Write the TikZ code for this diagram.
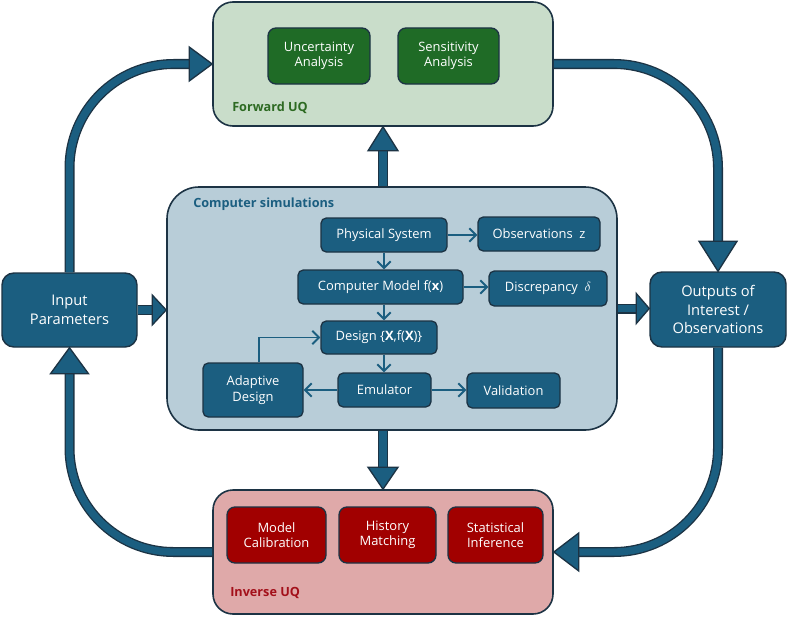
\documentclass[tikz,border=0pt]{standalone}
\usepackage{fontspec}
\setmainfont{Open Sans}
\usetikzlibrary{arrows.meta}
\definecolor{uqteal}{HTML}{1B5E80}
\definecolor{uqdark}{HTML}{1C3344}
\definecolor{simfill}{HTML}{B8CDD8}
\definecolor{fwdfill}{HTML}{C9DDCA}
\definecolor{invfill}{HTML}{DFA9A9}
\definecolor{fwdgreen}{HTML}{1F6B26}
\definecolor{invred}{HTML}{A10000}
\definecolor{fwdtext}{HTML}{2D6A22}
\definecolor{invtext}{HTML}{A3101A}
\tikzset{wd/.style = {minimum width=#1*0.75pt},
         ht/.style = {minimum height=#1*0.75pt}}
\tikzset{panel/.style = {draw=uqdark, line width=1.2pt, rounded corners=15pt, inner sep=0}}
\tikzset{bigbox/.style = {draw=uqdark, fill=uqteal, line width=1.1pt, rounded corners=9pt,
                          text=white, align=center, font=\fontsize{11}{14}\selectfont, inner sep=0}}
\tikzset{simbox/.style = {draw=uqdark, fill=uqteal, line width=1pt, rounded corners=4pt,
                          text=white, align=center, font=\fontsize{9.7}{11.5}\selectfont, inner sep=0}}
\tikzset{fwdbox/.style = {simbox, fill=fwdgreen, rounded corners=6pt}}
\tikzset{invbox/.style = {simbox, fill=invred, rounded corners=6pt}}
\tikzset{flow/.style = {draw=uqteal, line width=1.4pt, -{Straight Barb[length=5pt,width=10pt]}}}
\tikzset{shaft/.style = {draw=uqdark, line width=1pt, double=uqteal, double distance=5.5pt,
                         rounded corners=78pt}}
\tikzset{blockhd/.style = {draw=uqdark, fill=uqteal, line width=1pt, line join=miter}}
\tikzset{panellabel/.style = {anchor=west, font=\bfseries\fontsize{9.5}{11}\selectfont, inner sep=0}}
\newcommand{\blockhead}[4]{\filldraw[blockhd, shift={(#1)}, rotate=#2] (0,0) -- (-#3,#4) -- (-#3,-#4) -- cycle;}

\begin{document}
\begin{tikzpicture}[x=0.75pt, y=-0.75pt]
  \useasboundingbox (0,0) rectangle (787,617);

  % panels and end boxes
  \node[panel, fill=fwdfill, wd=340, ht=124] (fwd) at (383,64) {};
  \node[panel, fill=invfill, wd=340, ht=124] (inv) at (383,552) {};
  \node[panel, fill=simfill, wd=450, ht=243, rounded corners=24pt] (sim) at (392,308.5) {};
  \node[bigbox, wd=135, ht=74] (inp) at (69.5,310) {Input\\Parameters};
  \node[bigbox, wd=136, ht=75] (out) at (718,309.5) {Outputs of\\Interest /\\Observations};

  \node[panellabel, text=fwdtext] (fwdlab) at (232,108) {Forward UQ};
  \node[panellabel, text=invtext] (invlab) at (230,593) {Inverse UQ};
  \node[panellabel, text=uqteal] (simlab) at (193,204) {Computer simulations};

  % forward and inverse methods
  \node[fwdbox, wd=102, ht=56] (unc) at (319,56) {Uncertainty\\Analysis};
  \node[fwdbox, wd=101, ht=56] (sens) at (448.5,56) {Sensitivity\\Analysis};
  \node[invbox, wd=99, ht=56] (cal) at (276.5,535) {Model\\Calibration};
  \node[invbox, wd=97, ht=56] (hist) at (387.5,535) {History\\Matching};
  \node[invbox, wd=95, ht=56] (stat) at (495.5,535) {Statistical\\Inference};

  % simulation chain
  \node[simbox, wd=126, ht=34] (phys) at (384,235) {Physical System};
  \node[simbox, wd=122, ht=34] (obs) at (539,234) {Observations~~z};
  \node[simbox, wd=165, ht=34] (model) at (380.5,287) {Computer Model f(\textbf{x})};
  \node[simbox, wd=118, ht=35] (disc) at (548,288.5) {Discrepancy~~$\delta$};
  \node[simbox, wd=116, ht=33] (design) at (379,337.5) {Design \{\textbf{X},f(\textbf{X})\}};
  \node[simbox, wd=93, ht=34] (emu) at (384.5,390) {Emulator};
  \node[simbox, wd=93, ht=35] (valid) at (513.5,390.5) {Validation};
  \node[simbox, wd=100, ht=54] (adapt) at (253,390) {Adaptive\\Design};

  \draw[flow] (phys.east) -- (phys.east -| obs.west);
  \draw[flow] (phys.south) -- (phys.south |- model.north);
  \draw[flow] (model.east) -- (model.east -| disc.west);
  \draw[flow] (model.south -| phys.south) -- (phys.south |- design.north);
  \draw[flow] (design.south -| phys.south) -- (phys.south |- emu.north);
  \draw[flow] (emu.west) -- (adapt.east);
  \draw[flow] (emu.east) -- (emu.east -| valid.west);
  \draw[flow] ([xshift=4.5pt]adapt.north) |- (design.west);

  % block arrows
  \coordinate (simin) at (inp.east -| sim.west);
  \coordinate (outin) at (sim.east -| out.west);
  \draw[shaft] (inp.east) -- ([xshift=-5pt]simin);
  \blockhead{simin}{0}{14}{15}
  \draw[shaft] (sim.east) -- ([xshift=-5pt]outin);
  \blockhead{outin}{0}{13}{15}
  \draw[shaft] (fwd.south |- sim.north) -- ([yshift=-10pt]fwd.south);
  \blockhead{fwd.south}{90}{24}{15}
  \draw[shaft] (inv.north |- sim.south) -- ([yshift=10pt]inv.north);
  \blockhead{inv.north}{-90}{22}{15}

  \draw[shaft] (inp.north) -- (inp.north |- fwd.west) -- ([xshift=-12pt]fwd.west);
  \blockhead{fwd.west}{0}{23}{17}
  \draw[shaft] (fwd.east) -- (fwd.east -| out.north) -- ([yshift=12pt]out.north);
  \blockhead{out.north}{-90}{30}{19}
  \draw[shaft] (out.south) -- (out.south |- inv.east) -- ([xshift=12pt]inv.east);
  \blockhead{inv.east}{180}{25}{19}
  \draw[shaft] (inv.west) -- (inv.west -| inp.south) -- ([yshift=-12pt]inp.south);
  \blockhead{inp.south}{90}{26}{19}
\end{tikzpicture}
\end{document}
